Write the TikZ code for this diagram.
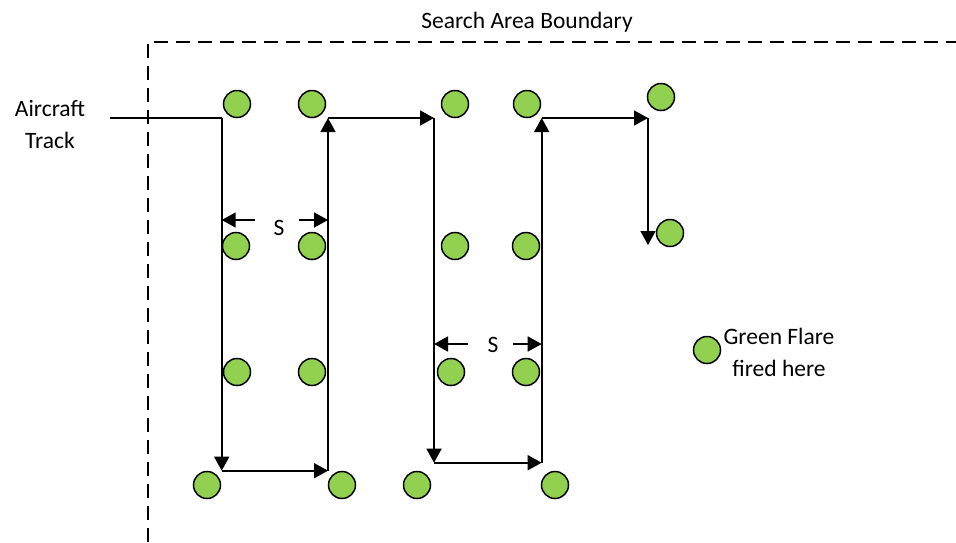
\documentclass[tikz,border=0pt]{standalone}
\usepackage{fontspec}
\setmainfont{Carlito}
\usepackage{tikz}
\usetikzlibrary{
	positioning,
	arrows.meta
}
\definecolor{FlareGreen}{RGB}{146,208,80}

\tikzset{
	flare/.style={
		circle,
		draw=black,
		fill=FlareGreen,
		line width=1.5pt,
		minimum size=27pt,
		inner sep=0pt
	},
	track/.style={
		line width=1.6pt,
		-{Triangle[length=14pt,width=15pt]}
	},
	label/.style={
		font=\fontsize{23.5}{32}\selectfont,
		align=center,
		inner sep=0pt
	}
}

\begin{document}
\begin{tikzpicture}[x=1pt,y=-1pt]
				
				\useasboundingbox (0,0) rectangle (956,542);
				
				% search area boundary
				\coordinate (BL) at (148,542);
				\coordinate (TL) at (148,42);
				\coordinate (TR) at (956,42);
				\draw[line width=1.6pt,dash pattern=on 14pt off 8pt] (BL) -- (TL) -- (TR);
				\node[label] (B) at (527,22) {Search Area Boundary};
				
				% flares
				\node[flare] (F1) at (237,104) {};
				\node[flare] (F2) at (312,104) {};
				\node[flare] (F3) at (455,104) {};
				\node[flare] (F4) at (527,104) {};
				\node[flare] (F5) at (661,97) {};
				\node[flare] (F6) at (236,246) {};
				\node[flare] (F7) at (312,246) {};
				\node[flare] (F8) at (455,246) {};
				\node[flare] (F9) at (526,246) {};
				\node[flare] (F10) at (670,233) {};
				\node[flare] (F11) at (237,372) {};
				\node[flare] (F12) at (312,372) {};
				\node[flare] (F13) at (451,372) {};
				\node[flare] (F14) at (526,372) {};
				\node[flare] (F15) at (207,485) {};
				\node[flare] (F16) at (342,485) {};
				\node[flare] (F17) at (417,485) {};
				\node[flare] (F18) at (555,485) {};
				
				% legend
				\node[flare] (G) at (707,350) {};
				\node[label] (GT) at (779,352) {Green Flare\\fired here};
				
				% aircraft track
				\node[label] (A) at (50,124) {Aircraft\\Track};
				\coordinate (T0) at (110,118);
				\coordinate (T1) at (221.7,118);
				\coordinate (T2) at (221.7,470.7);
				\coordinate (T3) at (328,470.7);
				\coordinate (T4) at (328,118);
				\coordinate (T5) at (434,118);
				\coordinate (T6) at (434,462.7);
				\coordinate (T7) at (541.7,462.7);
				\coordinate (T8) at (541.7,118);
				\coordinate (T9) at (648,118);
				\coordinate (T10) at (648,245);
				
				\draw[line width=1.6pt] (T0) -- (T1);
				\draw[track] (T1) -- (T2);
				\draw[track] (T2) -- (T3);
				\draw[track] (T3) -- (T4);
				\draw[track] (T4) -- (T5);
				\draw[track] (T5) -- (T6);
				\draw[track] (T6) -- (T7);
				\draw[track] (T7) -- (T8);
				\draw[track] (T8) -- (T9);
				\draw[track] (T9) -- (T10);
				
				% track spacing
				\node[label] (S1) at (279,228) {S};
				\coordinate (S1L) at (221.7,220);
				\coordinate (S1R) at (328,220);
				\draw[track] (S1) ++(-24,-8) coordinate (S1a) -- (S1L);
				\draw[track] (S1) ++(20,-8) coordinate (S1b) -- (S1R);
				
				\node[label] (S2) at (493,345) {S};
				\coordinate (S2L) at (434,344);
				\coordinate (S2R) at (541.7,344);
				\draw[track] (S2) ++(-25,-1) coordinate (S2a) -- (S2L);
				\draw[track] (S2) ++(20,-1) coordinate (S2b) -- (S2R);
				
			\end{tikzpicture}
\end{document}
